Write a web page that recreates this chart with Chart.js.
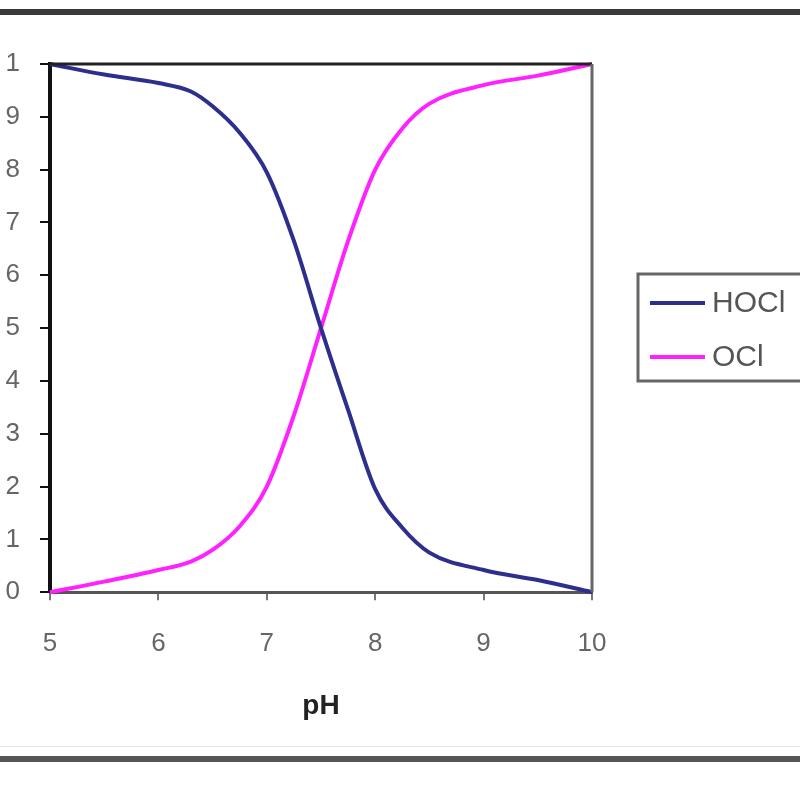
<!DOCTYPE html>
<html lang="en">
<head>
    <meta charset="UTF-8">
    <title>HOCl / OCl vs pH</title>
    <script src="https://cdn.jsdelivr.net/npm/chart.js"></script>
    <style>
        html, body { margin: 0; padding: 0; background: #fff; overflow: hidden; }
        #wrap { width: 800px; height: 800px; }
    </style>
</head>
<body>
    <div id="wrap"><canvas id="chart" width="800" height="800"></canvas></div>
    <script>
        // valores
        const phValues   = [5, 5.5, 6, 6.3, 6.5, 6.75, 7, 7.25, 7.5, 7.75, 8, 8.25, 8.5, 9, 9.5, 10];
        const hoclValues = [1.0, 0.98, 0.964, 0.948, 0.92, 0.87, 0.795, 0.665, 0.50, 0.345, 0.195, 0.122, 0.075, 0.042, 0.023, 0.0];
        const oclValues  = [0.0, 0.02, 0.042, 0.058, 0.08, 0.125, 0.20, 0.335, 0.50, 0.665, 0.80, 0.878, 0.925, 0.96, 0.978, 1.0];
        const seriesNames = ["HOCl", "OCl"];
        const seriesColors = ["#2e2e8c", "#ff22ff"];
        const xTicks = [5, 6, 7, 8, 9, 10];
        const yTickLabels = ["0", "1", "2", "3", "4", "5", "6", "7", "8", "9", "1"];

        const toPoints = (ys) => ys.map((y, i) => ({ x: phValues[i], y: y }));

        // marco, borde del area y leyenda con recuadro
        const framePlugin = {
            id: "frame",
            beforeDraw(chart) {
                const ctx = chart.ctx;
                ctx.save();
                ctx.fillStyle = "#fff";
                ctx.fillRect(0, 0, 800, 800);
                ctx.fillStyle = "#3a3a3a";
                ctx.fillRect(0, 9, 800, 6);
                ctx.fillStyle = "#555";
                ctx.fillRect(0, 756, 800, 6);
                ctx.fillStyle = "#e4e4e4";
                ctx.fillRect(0, 746, 800, 1);
                ctx.restore();
            },
            afterDraw(chart) {
                const ctx = chart.ctx;
                const a = chart.chartArea;
                ctx.save();
                ctx.lineWidth = 3;
                ctx.strokeStyle = "#222";
                ctx.beginPath();
                ctx.moveTo(a.left, a.top);
                ctx.lineTo(a.right, a.top);
                ctx.stroke();
                ctx.strokeStyle = "#666";
                ctx.beginPath();
                ctx.moveTo(a.right, a.top);
                ctx.lineTo(a.right, a.bottom);
                ctx.stroke();

                // leyenda
                ctx.lineWidth = 3;
                ctx.strokeStyle = "#666";
                ctx.strokeRect(638, 274, 200, 107);
                ctx.font = "30px 'Liberation Sans', Arial, sans-serif";
                ctx.textBaseline = "middle";
                ctx.fillStyle = "#555";
                chart.data.datasets.forEach((ds, i) => {
                    const y = 303 + i * 54;
                    ctx.strokeStyle = ds.borderColor;
                    ctx.lineWidth = 4;
                    ctx.beginPath();
                    ctx.moveTo(650, y);
                    ctx.lineTo(705, y);
                    ctx.stroke();
                    ctx.fillText(ds.label, 712, y + 1);
                });
                ctx.restore();
            }
        };

        new Chart(document.getElementById("chart").getContext("2d"), {
            type: "line",
            data: {
                datasets: [
                    { label: seriesNames[0], data: toPoints(hoclValues), borderColor: seriesColors[0], borderWidth: 4 },
                    { label: seriesNames[1], data: toPoints(oclValues), borderColor: seriesColors[1], borderWidth: 4 }
                ]
            },
            options: {
                responsive: false,
                animation: false,
                clip: false,
                elements: {
                    point: { radius: 0 },
                    line: { cubicInterpolationMode: "monotone", fill: false }
                },
                layout: { padding: { top: 64, right: 208, bottom: 77, left: 0 } },
                plugins: { legend: { display: false }, tooltip: { enabled: false } },
                scales: {
                    x: {
                        type: "linear",
                        min: 5,
                        max: 10,
                        afterBuildTicks: (scale) => { scale.ticks = xTicks.map(v => ({ value: v })); },
                        ticks: {
                            color: "#666",
                            padding: 28,
                            font: { family: "'Liberation Sans', Arial, sans-serif", size: 26 }
                        },
                        grid: { drawOnChartArea: false, tickLength: 8, color: "#777", lineWidth: 2 },
                        border: { color: "#555", width: 3 },
                        title: {
                            display: true,
                            text: "pH",
                            color: "#222",
                            padding: { top: 2, bottom: 0 },
                            font: { family: "'Liberation Sans', Arial, sans-serif", size: 28, weight: "bold" }
                        }
                    },
                    y: {
                        min: 0,
                        max: 1,
                        afterFit: (scale) => { scale.width = 50; },
                        ticks: {
                            stepSize: 0.1,
                            color: "#666",
                            padding: 20,
                            font: { family: "'Liberation Sans', Arial, sans-serif", size: 26 },
                            callback: (value, index) => yTickLabels[index]
                        },
                        grid: { drawOnChartArea: false, tickLength: 10, color: "#111", lineWidth: 2 },
                        border: { color: "#111", width: 4 }
                    }
                }
            },
            plugins: [framePlugin]
        });
    </script>
</body>
</html>
